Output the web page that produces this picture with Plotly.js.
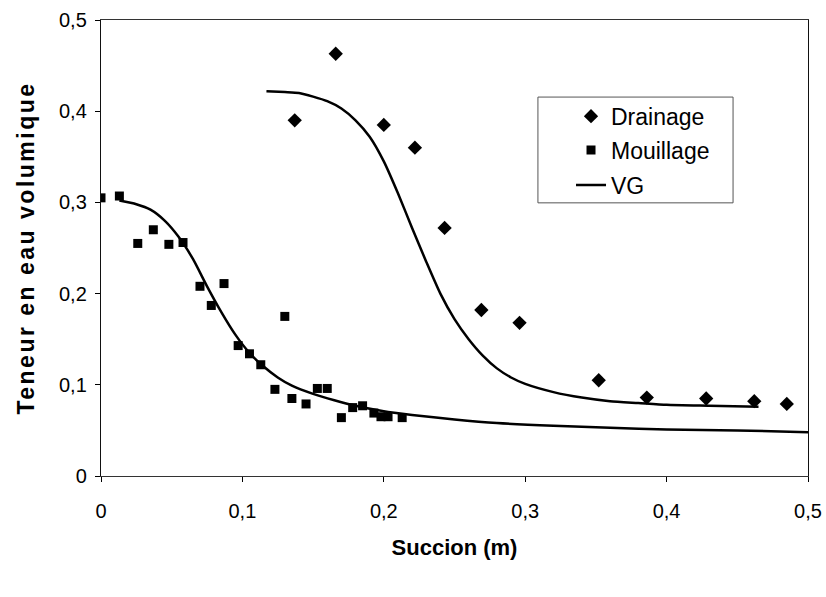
<!DOCTYPE html>
<html>
<head>
<meta charset="utf-8">
<script src="https://cdn.plot.ly/plotly-3.0.1.min.js"></script>
<style>
html,body{margin:0;padding:0;background:#fff;}
#chart{width:826px;height:597px;}
#chart .ytitle{letter-spacing:2.5px;}
</style>
</head>
<body>
<div id="chart"></div>
<script>
// Drainage (diamonds)
const drainX = [0.137, 0.166, 0.200, 0.222, 0.243, 0.269, 0.296, 0.352, 0.386, 0.428, 0.462, 0.485];
const drainY = [0.390, 0.463, 0.385, 0.360, 0.272, 0.182, 0.168, 0.105, 0.086, 0.085, 0.082, 0.079];
// Mouillage (squares)
const wetX = [0.000, 0.013, 0.026, 0.037, 0.048, 0.058, 0.070, 0.078, 0.087, 0.097, 0.105, 0.113, 0.123, 0.130, 0.135, 0.145, 0.153, 0.160, 0.170, 0.178, 0.185, 0.193, 0.198, 0.203, 0.213];
const wetY = [0.305, 0.307, 0.255, 0.270, 0.254, 0.256, 0.208, 0.187, 0.211, 0.143, 0.134, 0.122, 0.095, 0.175, 0.085, 0.079, 0.096, 0.096, 0.064, 0.075, 0.077, 0.069, 0.065, 0.065, 0.064];
// VG fitted curve, wetting branch
const vgWetX = [0.013, 0.025, 0.035, 0.045, 0.055, 0.065, 0.075, 0.085, 0.095, 0.105, 0.115, 0.125, 0.135, 0.150, 0.165, 0.180, 0.200, 0.220, 0.250, 0.280, 0.320, 0.360, 0.400, 0.450, 0.500];
const vgWetY = [0.302, 0.298, 0.292, 0.280, 0.262, 0.238, 0.208, 0.180, 0.155, 0.135, 0.120, 0.108, 0.099, 0.090, 0.083, 0.077, 0.071, 0.067, 0.062, 0.058, 0.055, 0.053, 0.051, 0.050, 0.048];
// VG fitted curve, drainage branch
const vgDrainX = [0.117, 0.130, 0.140, 0.150, 0.160, 0.170, 0.180, 0.190, 0.200, 0.210, 0.220, 0.230, 0.240, 0.250, 0.260, 0.270, 0.280, 0.290, 0.300, 0.320, 0.340, 0.360, 0.380, 0.400, 0.430, 0.465];
const vgDrainY = [0.422, 0.421, 0.420, 0.416, 0.411, 0.403, 0.390, 0.372, 0.345, 0.310, 0.272, 0.235, 0.200, 0.172, 0.150, 0.132, 0.118, 0.108, 0.101, 0.092, 0.086, 0.082, 0.080, 0.078, 0.077, 0.076];
const xTicks = [0, 0.1, 0.2, 0.3, 0.4, 0.5];
const yTicks = [0, 0.1, 0.2, 0.3, 0.4, 0.5];

const traces = [
  {x: drainX, y: drainY, name: 'Drainage', mode: 'markers', type: 'scatter', legend: 'legend',
   marker: {symbol: 'diamond', size: 11, color: '#000'}},
  {x: wetX, y: wetY, name: 'Mouillage', mode: 'markers', type: 'scatter', legend: 'legend2',
   marker: {symbol: 'square', size: 9, color: '#000'}},
  {x: vgDrainX, y: vgDrainY, name: 'VG', mode: 'lines', type: 'scatter', legend: 'legend3', legendgroup: 'vg',
   line: {color: '#000', width: 2.5, shape: 'spline', smoothing: 0.6}},
  {x: vgWetX, y: vgWetY, name: 'VG', mode: 'lines', type: 'scatter', legend: 'legend3', legendgroup: 'vg', showlegend: false,
   line: {color: '#000', width: 2.5, shape: 'spline', smoothing: 0.6}}
];

const fam = 'Arial, "Liberation Sans", sans-serif';
const tickFont = {family: fam, size: 20, color: '#000'};
const legFont = {family: fam, size: 23, color: '#000'};
function leg(y) {
  return {x: 0.6648, y: y, xanchor: 'left', yanchor: 'middle',
          bgcolor: 'rgba(0,0,0,0)', borderwidth: 0, font: legFont};
}
const layout = {
  width: 826, height: 597,
  margin: {l: 101, r: 18, t: 20, b: 121},
  paper_bgcolor: '#fff', plot_bgcolor: '#fff',
  separators: ', ',
  font: tickFont,
  showlegend: true,
  legend: leg(0.789),
  legend2: leg(0.715),
  legend3: leg(0.638),
  shapes: [
    {type: 'rect', xref: 'paper', yref: 'paper', x0: 0.618, x1: 0.894, y0: 0.599, y1: 0.831,
     line: {color: '#555', width: 1}, fillcolor: 'rgba(0,0,0,0)', layer: 'below'}
  ],
  xaxis: {range: [0, 0.5], tickvals: xTicks, ticks: 'outside', ticklen: 5, tickcolor: '#000',
          ticklabelstandoff: 12,
          showgrid: false, zeroline: false, showline: true, linecolor: '#333', linewidth: 1, mirror: true,
          tickfont: tickFont,
          title: {text: '<b>Succion (m)</b>', font: {family: fam, size: 22, color: '#000'}, standoff: 18}},
  yaxis: {range: [0, 0.5], tickvals: yTicks, ticks: 'outside', ticklen: 5, tickcolor: '#000',
          ticklabelstandoff: 4,
          showgrid: false, zeroline: false, showline: true, linecolor: '#111', linewidth: 1.2, mirror: true,
          tickfont: tickFont,
          title: {text: '<b>Teneur en eau volumique</b>', font: {family: fam, size: 23, color: '#000'}, standoff: 18}}
};

Plotly.newPlot('chart', traces, layout, {staticPlot: true, displayModeBar: false});
</script>
</body>
</html>
